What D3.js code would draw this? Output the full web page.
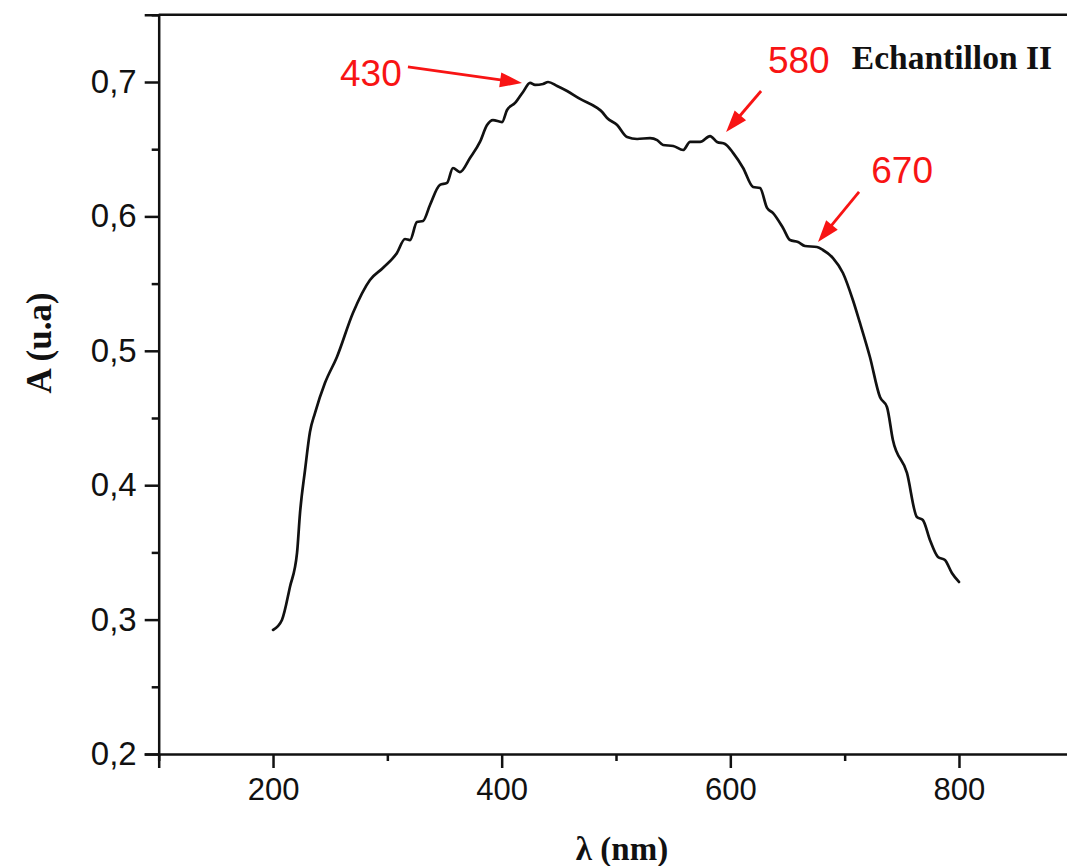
<!DOCTYPE html>
<html>
<head>
<meta charset="utf-8">
<script src="https://cdn.jsdelivr.net/npm/d3@7"></script>
<style>
  html, body { margin: 0; padding: 0; background: #fff; }
  svg { display: block; }
</style>
</head>
<body>
<svg id="chart" width="1067" height="866"></svg>
<script>
// ---- data ----
const wavelength = [200, 207.8, 214.8, 221, 223.6, 228, 232.3, 236.7, 245.4, 255.9, 269.9, 284.8, 296.1, 308.4, 315.4, 319.8, 325.9, 331.2, 337.3, 346, 352.2, 357.4, 363.5, 372.3, 381, 387.2, 392.4, 400.3, 404.7, 411.7, 418.7, 424.8, 429.2, 436.2, 440.6, 448.5, 457.2, 468.6, 483.5, 487.9, 492.2, 501, 509.7, 518.5, 529.8, 536, 541.2, 550, 558.7, 564.8, 573.6, 582.3, 588.4, 595.4, 602.4, 611.2, 619.9, 626, 632.1, 637.4, 646.1, 652.2, 659.2, 665.3, 675.8, 681, 689.8, 698.5, 707.2, 713.4, 722.1, 730.9, 737, 742.2, 754.5, 763.2, 768.4, 774.6, 781.6, 787.7, 793.8, 800];
const absorbance = [0.2923, 0.2997, 0.3243, 0.3496, 0.3793, 0.4113, 0.4396, 0.4537, 0.476, 0.4954, 0.5281, 0.5527, 0.5616, 0.5728, 0.5832, 0.5824, 0.5958, 0.5966, 0.6085, 0.6234, 0.6249, 0.636, 0.633, 0.6435, 0.6554, 0.668, 0.6717, 0.6702, 0.6792, 0.6844, 0.6926, 0.6993, 0.6978, 0.6985, 0.7, 0.697, 0.6933, 0.6874, 0.6807, 0.6777, 0.6732, 0.668, 0.6591, 0.6576, 0.6583, 0.6568, 0.6531, 0.6524, 0.6494, 0.6554, 0.6554, 0.6598, 0.6554, 0.6539, 0.6473, 0.636, 0.6219, 0.6211, 0.6063, 0.6025, 0.5914, 0.5824, 0.581, 0.578, 0.5772, 0.575, 0.569, 0.5579, 0.5378, 0.5207, 0.4954, 0.4656, 0.4582, 0.4336, 0.4091, 0.3763, 0.3741, 0.3592, 0.3466, 0.3443, 0.3347, 0.328];

const xTicks = [200, 400, 600, 800];
const xMinorTicks = [100, 300, 500, 700, 900];
const yTicks = [0.2, 0.3, 0.4, 0.5, 0.6, 0.7];
const yMinorTicks = [0.25, 0.35, 0.45, 0.55, 0.65, 0.75];
const yTickLabels = ["0,2", "0,3", "0,4", "0,5", "0,6", "0,7"];

const peakLabels = ["430", "580", "670"];
const arrowTipX = [417.8, 596.3, 676.7];
const arrowTipY = [0.6993, 0.6628, 0.5810];
const arrowTailX = [318.0, 626.9, 712.6];
const arrowTailY = [0.7112, 0.6933, 0.6182];
const labelX = [258.6, 632.9, 723.3];
const labelY = [0.6970, 0.7067, 0.6249];

const sampleName = "Echantillon II";
const sampleX = 706.3, sampleY = 0.7097;
const xTitle = "λ (nm)";
const yTitle = "A (u.a)";

(function () {
// ---- layout ----
const svg = d3.select("#chart");
const mLeft = 158.7, mRight = 1073.3, mTop = 14.8, mBottom = 754;
const x = d3.scaleLinear().domain([100, 900]).range([mLeft, mRight]);
const y = d3.scaleLinear().domain([0.2, 0.75]).range([mBottom, mTop]);

const axisColor = "#111";
const tickFont = "'Liberation Sans', Arial, sans-serif";
const serif = "'Liberation Serif', 'Times New Roman', serif";

// frame top line
svg.append("line").attr("x1", mLeft).attr("x2", mRight).attr("y1", mTop).attr("y2", mTop)
  .attr("stroke", axisColor).attr("stroke-width", 2.5);

// Y axis
const yAxis = d3.axisLeft(y).tickValues(yTicks).tickSize(14).tickPadding(8)
  .tickFormat((d, i) => yTickLabels[i]);
const gy = svg.append("g").attr("transform", `translate(${mLeft},0)`).call(yAxis);
gy.select(".domain").attr("stroke", axisColor).attr("stroke-width", 2.5);
gy.selectAll(".tick line").attr("stroke", axisColor).attr("stroke-width", 2.5);
gy.selectAll(".tick text").attr("font-family", tickFont).attr("font-size", 33).attr("fill", "#111");
const yMinor = d3.axisLeft(y).tickValues(yMinorTicks).tickSize(7).tickFormat("");
const gym = svg.append("g").attr("transform", `translate(${mLeft},0)`).call(yMinor);
gym.select(".domain").remove();
gym.selectAll(".tick line").attr("stroke", axisColor).attr("stroke-width", 2.5);

// X axis
const xAxis = d3.axisBottom(x).tickValues(xTicks).tickSize(14).tickPadding(10).tickFormat(d3.format("d"));
const gx = svg.append("g").attr("transform", `translate(0,${mBottom})`).call(xAxis);
gx.select(".domain").attr("stroke", axisColor).attr("stroke-width", 2.5);
gx.selectAll(".tick line").attr("stroke", axisColor).attr("stroke-width", 2.5);
gx.selectAll(".tick text").attr("font-family", tickFont).attr("font-size", 31).attr("fill", "#111");
const xMinor = d3.axisBottom(x).tickValues(xMinorTicks).tickSize(7).tickFormat("");
const gxm = svg.append("g").attr("transform", `translate(0,${mBottom})`).call(xMinor);
gxm.select(".domain").remove();
gxm.selectAll(".tick line").attr("stroke", axisColor).attr("stroke-width", 2.5);

// Axis titles
svg.append("text").attr("transform", `translate(51,343) rotate(-90)`)
  .attr("text-anchor", "middle").attr("font-family", serif).attr("font-weight", "bold")
  .attr("font-size", 35).attr("fill", "#111").text(yTitle);
svg.append("text").attr("x", 622).attr("y", 860)
  .attr("text-anchor", "middle").attr("font-family", serif).attr("font-weight", "bold")
  .attr("font-size", 33).attr("fill", "#111").text(xTitle);

// Curve
const pts = wavelength.map((w, i) => [w, absorbance[i]]);
svg.append("path").datum(pts)
  .attr("fill", "none").attr("stroke", "#111").attr("stroke-width", 2.7)
  .attr("stroke-linejoin", "round").attr("stroke-linecap", "round")
  .attr("d", d3.line().x(d => x(d[0])).y(d => y(d[1])).curve(d3.curveMonotoneX));

// Annotations (arrows)
const red = "#f81414";
peakLabels.forEach((lab, i) => {
  const x0 = x(arrowTailX[i]), y0 = y(arrowTailY[i]);
  const x1 = x(arrowTipX[i]), y1 = y(arrowTipY[i]);
  const dx = x1 - x0, dy = y1 - y0, len = Math.hypot(dx, dy);
  const ux = dx / len, uy = dy / len;
  const hl = 22, hw = 7.5;
  const bx = x1 - ux * hl, by = y1 - uy * hl;
  svg.append("line").attr("x1", x0).attr("y1", y0).attr("x2", bx + ux * 2).attr("y2", by + uy * 2)
    .attr("stroke", red).attr("stroke-width", 2.8);
  svg.append("polygon")
    .attr("points", [[x1, y1], [bx - uy * hw, by + ux * hw], [bx + uy * hw, by - ux * hw]].map(p => p.join(",")).join(" "))
    .attr("fill", red);
  svg.append("text").attr("x", x(labelX[i])).attr("y", y(labelY[i]))
    .attr("font-family", tickFont).attr("font-size", 37).attr("fill", red).text(lab);
});

svg.append("text").attr("x", x(sampleX)).attr("y", y(sampleY))
  .attr("font-family", serif).attr("font-weight", "bold").attr("font-size", 33.5)
  .attr("fill", "#111").text(sampleName);
})();
</script>
</body>
</html>
